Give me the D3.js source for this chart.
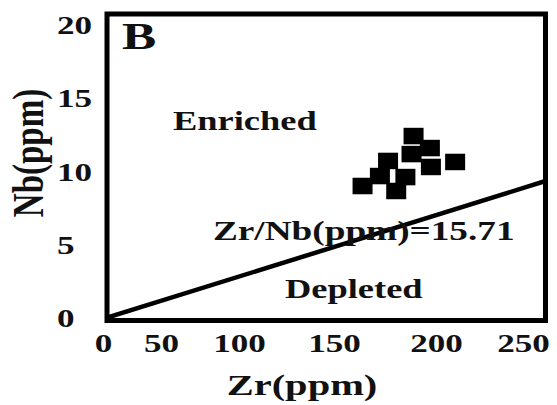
<!DOCTYPE html>
<html>
<head>
<meta charset="utf-8">
<script src="https://cdn.jsdelivr.net/npm/d3@7"></script>
<style>
  html, body { margin: 0; padding: 0; background: #fff; }
  svg { display: block; }
  text { font-family: "Liberation Serif", "Times New Roman", serif; font-weight: bold; fill: #111; }
</style>
</head>
<body>
<svg id="chart" width="557" height="405"></svg>
<script>
// Sample compositions (ppm)
const zr = [189, 197, 188, 197.5, 211, 176.5, 172.5, 185, 164, 180.5];
const nb = [12.42, 11.6, 11.19, 10.31, 10.65, 10.72, 9.69, 9.62, 9.01, 8.67];

// Enriched / depleted boundary line
const lineZr = [0, 263];
const lineNb = [0, 9.35];

// Axis ticks
const xTicks = [0, 50, 100, 150, 200, 250];
const yTicks = [0, 5, 10, 15, 20];

const box = { left: 107, top: 14, right: 545.5, bottom: 320.5 };
const sx = 1.35; // horizontal stretch of the lettering

const svg = d3.select("#chart");

// x axis is drawn with uneven tick spacing
const x = d3.scaleLinear()
  .domain(xTicks)
  .range([106, 161, 239, 334, 436, 523]);
const y = d3.scaleLinear().domain([0, 20]).range([318, 25]);

svg.append("defs").append("clipPath").attr("id", "plot")
  .append("rect")
  .attr("x", box.left).attr("y", box.top)
  .attr("width", box.right - box.left).attr("height", box.bottom - box.top);

// boundary line
const pts = lineZr.map((d, i) => [x(d), y(lineNb[i])]);
svg.append("path")
  .attr("clip-path", "url(#plot)")
  .attr("d", d3.line()(pts))
  .attr("fill", "none").attr("stroke", "#000").attr("stroke-width", 4.5);

// samples
const mw = 20, mh = 16.5;
svg.append("g").selectAll("rect")
  .data(zr.map((d, i) => ({ zr: d, nb: nb[i] })))
  .join("rect")
  .attr("x", d => x(d.zr) - mw / 2)
  .attr("y", d => y(d.nb) - mh / 2)
  .attr("width", mw).attr("height", mh)
  .attr("fill", "#000");

// frame
svg.append("rect")
  .attr("x", box.left).attr("y", box.top)
  .attr("width", box.right - box.left).attr("height", box.bottom - box.top)
  .attr("fill", "none").attr("stroke", "#000").attr("stroke-width", 5);

// y axis
const gy = svg.append("g")
  .call(d3.axisLeft(y).tickValues(yTicks).tickSize(0).tickFormat(d3.format("d")))
  .attr("font-family", null);
gy.select(".domain").remove();
gy.selectAll("text")
  .attr("text-anchor", "start")
  .attr("x", 57 / sx)
  .attr("dy", "0.33em")
  .attr("transform", `scale(${sx},1)`)
  .style("font-size", "26px");

// x axis
const gx = svg.append("g")
  .call(d3.axisBottom(x).tickValues(xTicks).tickSize(0).tickFormat(d3.format("d")))
  .attr("font-family", null);
gx.select(".domain").remove();
gx.selectAll("text")
  .attr("y", 352).attr("dy", 0)
  .attr("dx", d => d === 0 ? -3 / sx : 0)
  .attr("transform", `scale(${sx},1)`)
  .style("font-size", "26px");

function label(txt, px, py, size, anchor, rot) {
  const g = svg.append("g")
    .attr("transform", `translate(${px},${py}) scale(${sx},1)` + (rot ? ` rotate(${rot})` : ""));
  g.append("text")
    .attr("text-anchor", anchor || "start")
    .style("font-size", size + "px")
    .text(txt);
}

label("B", 122, 49, 38);
label("Enriched", 173, 130, 27);
label("Zr/Nb(ppm)=15.71", 213, 240, 27.6);
label("Depleted", 285, 298, 27);
label("Zr(ppm)", 302, 395, 30, "middle");
label("Nb(ppm)", 43, 153, 33, "middle", -90);
</script>
</body>
</html>
